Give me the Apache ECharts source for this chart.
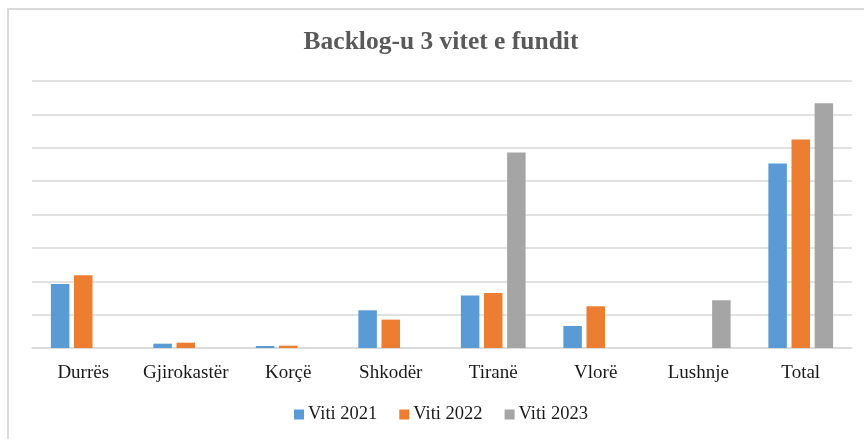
<!DOCTYPE html>
<html>
<head>
<meta charset="utf-8">
<script src="https://cdn.jsdelivr.net/npm/echarts@6/dist/echarts.min.js"></script>
<style>
  html, body { margin: 0; padding: 0; background: #ffffff; }
  #chart { width: 864px; height: 439px; }
</style>
</head>
<body>
<div id="chart"></div>
<script>
// Backlog per court, last three years
const categories = ['Durrës', 'Gjirokastër', 'Korçë', 'Shkodër', 'Tiranë', 'Vlorë', 'Lushnje', 'Total'];
const viti2021 = [1920, 130, 60, 1130, 1570, 660, 0, 5530];
const viti2022 = [2180, 160, 70, 850, 1650, 1250, 0, 6250];
const viti2023 = [0, 0, 0, 0, 5860, 0, 1430, 7330];
const seriesNames = ['Viti 2021', 'Viti 2022', 'Viti 2023'];
const seriesColors = ['#5B9BD5', '#ED7D31', '#A5A5A5'];

const serif = '"Liberation Serif", "Times New Roman", serif';

const chart = echarts.init(document.getElementById('chart'));

const makeBar = (name, data, color) => ({
  name: name,
  type: 'bar',
  data: data,
  barWidth: 18.5,
  barGap: '25%',
  itemStyle: { color: color },
  emphasis: { disabled: true }
});

chart.setOption({
  animation: false,
  backgroundColor: '#ffffff',
  title: {
    text: 'Backlog-u 3 vitet e fundit',
    left: 441,
    top: 29,
    textAlign: 'center',
    padding: 0,
    textStyle: {
      fontFamily: serif,
      fontSize: 25.5,
      fontWeight: 'bold',
      color: '#595959'
    }
  },
  legend: {
    data: seriesNames,
    left: 294,
    top: 405,
    padding: 0,
    itemWidth: 10,
    itemHeight: 10,
    itemGap: 22,
    icon: 'rect',
    textStyle: {
      fontFamily: serif,
      fontSize: 18.5,
      color: '#1a1a1a',
      padding: [0, 0, 0, -1]
    }
  },
  grid: {
    left: 32,
    right: 12,
    top: 81,
    bottom: 91,
    containLabel: false
  },
  xAxis: {
    type: 'category',
    data: categories,
    axisTick: { show: false },
    axisLine: { lineStyle: { color: '#d9d9d9', width: 1.5 } },
    axisLabel: {
      interval: 0,
      hideOverlap: false,
      fontFamily: serif,
      fontSize: 19,
      color: '#1a1a1a',
      margin: 16
    }
  },
  yAxis: {
    type: 'value',
    min: 0,
    max: 8000,
    interval: 1000,
    axisLabel: { show: false },
    axisLine: { show: false },
    axisTick: { show: false },
    splitLine: { lineStyle: { color: '#d9d9d9', width: 1.5 } }
  },
  series: [
    makeBar(seriesNames[0], viti2021, seriesColors[0]),
    makeBar(seriesNames[1], viti2022, seriesColors[1]),
    makeBar(seriesNames[2], viti2023, seriesColors[2])
  ],
  graphic: [
    { type: 'rect', shape: { x: 7, y: 8, width: 857, height: 2 }, style: { fill: '#d9d9d9' }, silent: true },
    { type: 'rect', shape: { x: 7, y: 8, width: 2, height: 431 }, style: { fill: '#d9d9d9' }, silent: true }
  ]
});
</script>
</body>
</html>
